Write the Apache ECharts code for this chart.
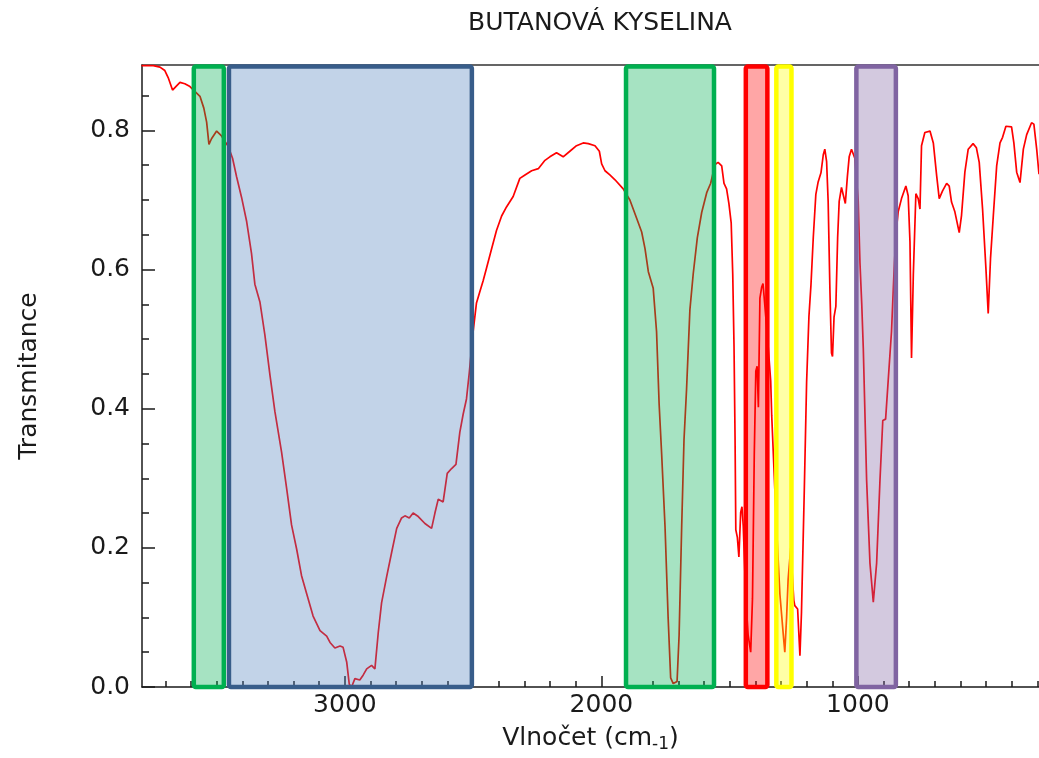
<!DOCTYPE html>
<html><head><meta charset="utf-8">
<script src="https://cdn.jsdelivr.net/npm/echarts@6/dist/echarts.min.js"></script>
<style>html,body{margin:0;padding:0;background:#fff}#c{width:1039px;height:758px}</style>
</head><body><div id="c"></div>
<script>
const chartTitle = 'BUTANOVÁ KYSELINA';
const xName = 'Vlnočet (cm';
const xNameSub = '-1';
const yName = 'Transmitance';
const wavenumberMin = 294, wavenumberMax = 3791;
const transMin = 0, transMax = 0.894;
const xMajorTicks = [1000, 2000, 3000];
const xMinorTicks = [300,400,500,600,700,800,900,1100,1200,1300,1400,1500,1600,1700,1800,1900,2100,2200,2300,2400,2500,2600,2700,2800,2900,3100,3200,3300,3400,3500,3600,3700];
const yMajorTicks = [0, 0.2, 0.4, 0.6, 0.8];
const yMinorTicks = [0.05,0.1,0.15,0.25,0.3,0.35,0.45,0.5,0.55,0.65,0.7,0.75,0.85];

const wavenumber = [3793,3747,3721,3702,3689,3672,3659,3643,3624,3604,3585,3565,3550,3539,3530,3520,3500,3481,3455,3438,3422,3403,3383,3364,3351,3331,3312,3292,3273,3247,3227,3208,3188,3169,3149,3124,3097,3071,3058,3039,3019,3007,2993,2983,2974,2961,2942,2929,2915,2896,2883,2870,2857,2837,2818,2798,2779,2766,2749,2734,2714,2688,2662,2649,2636,2617,2601,2584,2567,2552,2539,2526,2515,2500,2487,2474,2461,2448,2428,2409,2389,2370,2344,2318,2298,2272,2246,2220,2201,2175,2149,2123,2097,2071,2051,2025,2008,1999,1986,1967,1947,1915,1889,1863,1843,1830,1817,1798,1785,1775,1765,1752,1740,1730,1720,1705,1697,1687,1678,1668,1655,1642,1626,1609,1589,1574,1557,1545,1531,1522,1512,1503,1494,1488,1483,1479,1476,1470,1464,1457,1452,1447,1437,1428,1418,1411,1404,1398,1393,1388,1382,1375,1370,1365,1352,1340,1336,1320,1304,1292,1285,1278,1272,1262,1250,1246,1235,1226,1220,1209,1200,1191,1183,1174,1164,1155,1144,1135,1129,1122,1116,1109,1103,1099,1093,1086,1079,1073,1064,1057,1049,1041,1034,1025,1012,999,992,985,979,966,953,940,927,914,903,892,882,869,860,852,843,830,813,804,797,791,784,774,765,758,752,739,719,706,693,683,670,654,644,635,622,605,596,583,570,551,538,527,514,501,492,483,472,459,446,436,423,401,392,381,368,355,342,323,314,303,294];
const transmittance = [0.893,0.893,0.891,0.886,0.876,0.858,0.863,0.869,0.867,0.863,0.856,0.849,0.832,0.812,0.780,0.788,0.799,0.792,0.777,0.760,0.733,0.704,0.669,0.623,0.579,0.553,0.506,0.448,0.396,0.338,0.285,0.233,0.198,0.160,0.134,0.102,0.081,0.073,0.064,0.056,0.059,0.057,0.036,0.004,0.000,0.012,0.010,0.017,0.026,0.031,0.026,0.078,0.121,0.159,0.193,0.228,0.243,0.246,0.243,0.250,0.245,0.235,0.228,0.250,0.270,0.266,0.307,0.314,0.320,0.366,0.392,0.414,0.452,0.511,0.552,0.568,0.584,0.602,0.630,0.656,0.677,0.690,0.705,0.731,0.736,0.742,0.745,0.757,0.762,0.768,0.762,0.770,0.778,0.782,0.781,0.778,0.770,0.752,0.742,0.736,0.729,0.716,0.700,0.674,0.654,0.630,0.597,0.573,0.511,0.407,0.334,0.231,0.101,0.013,0.005,0.008,0.075,0.231,0.355,0.428,0.542,0.594,0.646,0.682,0.711,0.724,0.751,0.754,0.749,0.724,0.716,0.695,0.667,0.594,0.490,0.360,0.226,0.215,0.187,0.251,0.259,0.231,0.127,0.075,0.050,0.127,0.334,0.454,0.461,0.402,0.559,0.575,0.580,0.558,0.500,0.440,0.390,0.250,0.133,0.080,0.050,0.100,0.155,0.200,0.125,0.117,0.112,0.045,0.107,0.283,0.438,0.532,0.578,0.646,0.708,0.726,0.739,0.765,0.773,0.755,0.698,0.568,0.480,0.475,0.532,0.547,0.646,0.698,0.718,0.716,0.695,0.734,0.762,0.773,0.760,0.700,0.610,0.550,0.487,0.297,0.178,0.122,0.178,0.297,0.383,0.385,0.440,0.511,0.590,0.650,0.683,0.702,0.720,0.706,0.640,0.473,0.592,0.709,0.702,0.687,0.778,0.797,0.799,0.782,0.735,0.702,0.713,0.724,0.720,0.697,0.683,0.653,0.678,0.740,0.773,0.781,0.775,0.754,0.687,0.602,0.537,0.616,0.678,0.749,0.782,0.790,0.806,0.805,0.782,0.740,0.725,0.773,0.794,0.811,0.809,0.773,0.737];

// highlighted bands (wavenumber ranges)
const bandStart = [3589, 3452, 1904, 1437, 1318, 1006];
const bandEnd   = [3472, 2505, 1561, 1353, 1259, 852];
const bandTop = 0.892, bandBottom = 0;

// styles
const bandBorder = ['#00b050', '#385d8a', '#00b050', '#ff0000', '#ffff00', '#8064a2'];
const bandFill = ['rgba(0,176,80,0.35)', 'rgba(79,129,189,0.35)', 'rgba(0,176,80,0.35)', 'rgba(255,0,0,0.35)', 'rgba(255,255,0,0.35)', 'rgba(128,100,162,0.35)'];
const FONT = 'DejaVu Sans';
const AXIS_COLOR = '#1a1a1a';

const spectrum = wavenumber.map((w, i) => [w, transmittance[i]]);
const bands = bandStart.map((s, i) => [s, bandEnd[i], i]);

const chart = echarts.init(document.getElementById('c'), null, {renderer: 'canvas'});
const lineStyle = {color: AXIS_COLOR, width: 1.5};
const baseX = {type: 'value', inverse: true, min: wavenumberMin, max: wavenumberMax, splitLine: {show: false}};
const baseY = {type: 'value', min: transMin, max: transMax, splitLine: {show: false}};

chart.setOption({
  animation: false,
  backgroundColor: '#fff',
  title: {text: chartTitle, left: 595, top: 6, textAlign: 'center',
    textStyle: {fontFamily: FONT, fontSize: 25, fontWeight: 'normal', color: '#1a1a1a'}},
  grid: {left: 142, right: 0, top: 65, bottom: 66},
  xAxis: [
    Object.assign({}, baseX, {
      position: 'bottom',
      axisLine: {onZero: false, lineStyle},
      axisTick: {inside: true, length: 11, customValues: xMajorTicks, lineStyle},
      axisLabel: {customValues: xMajorTicks, formatter: v => String(v), fontFamily: FONT, fontSize: 25, color: '#1a1a1a', margin: 6},
      name: xName + '{sub|' + xNameSub + '})',
      nameLocation: 'middle', nameGap: 36,
      nameTextStyle: {fontFamily: FONT, fontSize: 25, color: '#1a1a1a', lineHeight: 30,
        rich: {sub: {fontFamily: FONT, fontSize: 17, color: '#1a1a1a', lineHeight: 17, verticalAlign: 'bottom'}}}
    }),
    Object.assign({}, baseX, {
      position: 'bottom',
      axisLine: {show: false, onZero: false},
      axisTick: {inside: true, length: 6, customValues: xMinorTicks, lineStyle},
      axisLabel: {show: false}
    }),
    Object.assign({}, baseX, {
      position: 'top',
      axisLine: {onZero: false, lineStyle: {color: '#333', width: 1.5}},
      axisTick: {show: false},
      axisLabel: {show: false}
    })
  ],
  yAxis: [
    Object.assign({}, baseY, {
      position: 'left',
      axisLine: {show: true, onZero: false, lineStyle},
      axisTick: {show: true, inside: true, length: 13, customValues: yMajorTicks, lineStyle},
      axisLabel: {customValues: yMajorTicks, formatter: v => v.toFixed(1), fontFamily: FONT, fontSize: 25, color: '#1a1a1a', margin: 12},
      name: yName, nameLocation: 'middle', nameGap: 100, nameRotate: 90,
      nameTextStyle: {fontFamily: FONT, fontSize: 25, color: '#1a1a1a'}
    }),
    Object.assign({}, baseY, {
      position: 'left',
      axisLine: {show: false, onZero: false},
      axisTick: {show: true, inside: true, length: 7, customValues: yMinorTicks, lineStyle},
      axisLabel: {show: false}
    })
  ],
  series: [
    {
      type: 'line', data: spectrum, xAxisIndex: 0, yAxisIndex: 0,
      symbol: 'none', showSymbol: false, z: 1, zlevel: 0, silent: true,
      lineStyle: {color: '#ff0000', width: 1.7}
    },
    {
      type: 'custom', data: bands, xAxisIndex: 0, yAxisIndex: 0, z: 10, zlevel: 1, silent: true, clip: false,
      encode: {x: [0, 1]},
      renderItem: (params, api) => {
        const i = api.value(2);
        const p1 = api.coord([api.value(0), bandTop]);
        const p2 = api.coord([api.value(1), bandBottom]);
        return {
          type: 'rect',
          shape: {x: p1[0], y: p1[1], width: p2[0] - p1[0], height: p2[1] - p1[1], r: 2},
          style: {fill: bandFill[i], stroke: bandBorder[i], lineWidth: 4.5, lineJoin: 'round'}
        };
      }
    }
  ]
});
</script></body></html>
